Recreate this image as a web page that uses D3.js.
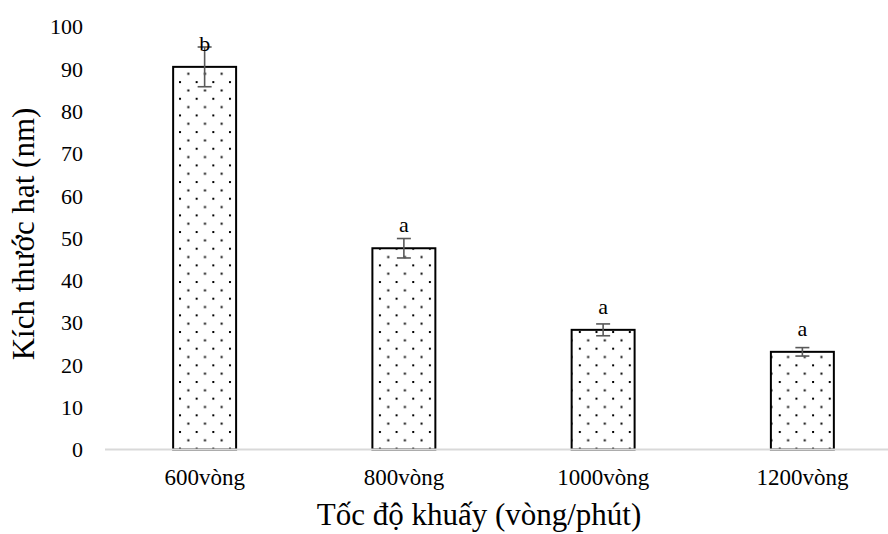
<!DOCTYPE html>
<html>
<head>
<meta charset="utf-8">
<script src="https://cdn.jsdelivr.net/npm/d3@7"></script>
<style>
  body { margin: 0; background: #ffffff; }
  svg text { font-family: "Liberation Serif", "Times New Roman", serif; fill: #000; }
</style>
</head>
<body>
<div class="chart"></div>
<script>
const categories = ['600vòng', '800vòng', '1000vòng', '1200vòng'];
const sizes = [90.5, 47.6, 28.3, 23.1];
const errors = [4.7, 2.3, 1.4, 1.0];
const letters = ['b', 'a', 'a', 'a'];
const yTicks = [0, 10, 20, 30, 40, 50, 60, 70, 80, 90, 100];

const w = 888;
const h = 534;

const data = categories.map((c, i) => ({ cat: c, value: sizes[i], err: errors[i], letter: letters[i] }));

const xScale = d3.scaleBand()
  .domain(categories)
  .range([105, 902])
  .paddingInner(0.684)
  .paddingOuter(0.342);

const yScale = d3.scaleLinear()
  .domain([0, 100])
  .range([449.5, 26.7]);

const svg = d3.select('.chart')
  .append('svg')
  .attr('width', w)
  .attr('height', h)
  .style('display', 'block');

// dotted fill like the excel pattern
const pat = svg.append('defs').append('pattern')
  .attr('id', 'dots')
  .attr('patternUnits', 'userSpaceOnUse')
  .attr('width', 16.66)
  .attr('height', 16.66)
  .attr('x', 179)
  .attr('y', 381);
pat.append('rect').attr('width', 16.66).attr('height', 16.66).attr('fill', '#fff');
pat.append('rect').attr('x', 0).attr('y', 0).attr('width', 2).attr('height', 2).attr('fill', '#000');
pat.append('rect').attr('x', 8.33).attr('y', 8.33).attr('width', 2).attr('height', 2).attr('fill', '#000');

// y tick labels (no axis line in the original)
svg.append('g')
  .selectAll('text')
  .data(yTicks)
  .join('text')
  .attr('x', 83)
  .attr('y', d => yScale(d))
  .attr('dy', '0.35em')
  .attr('text-anchor', 'end')
  .style('font-size', '22px')
  .text(d => d);

// bars
svg.append('g')
  .selectAll('rect')
  .data(data)
  .join('rect')
  .attr('x', d => xScale(d.cat))
  .attr('y', d => yScale(d.value))
  .attr('width', xScale.bandwidth())
  .attr('height', d => yScale(0) - yScale(d.value))
  .attr('fill', 'url(#dots)')
  .attr('stroke', '#000')
  .attr('stroke-width', 2);

// baseline
svg.append('line')
  .attr('x1', 105)
  .attr('x2', w)
  .attr('y1', yScale(0))
  .attr('y2', yScale(0))
  .attr('stroke', '#d9d9d9')
  .attr('stroke-width', 2);

// error bars
const eb = svg.append('g')
  .attr('stroke', '#595959')
  .attr('stroke-width', 1.6);

eb.selectAll('.stem')
  .data(data)
  .join('line')
  .attr('class', 'stem')
  .attr('x1', d => xScale(d.cat) + xScale.bandwidth() / 2)
  .attr('x2', d => xScale(d.cat) + xScale.bandwidth() / 2)
  .attr('y1', d => yScale(d.value + d.err))
  .attr('y2', d => yScale(d.value - d.err));

[1, -1].forEach(s => {
  eb.selectAll('.cap' + (s > 0 ? 'top' : 'bot'))
    .data(data)
    .join('line')
    .attr('class', 'cap' + (s > 0 ? 'top' : 'bot'))
    .attr('x1', d => xScale(d.cat) + xScale.bandwidth() / 2 - 7)
    .attr('x2', d => xScale(d.cat) + xScale.bandwidth() / 2 + 7)
    .attr('y1', d => yScale(d.value + s * d.err))
    .attr('y2', d => yScale(d.value + s * d.err));
});

// significance letters
svg.append('g')
  .selectAll('text')
  .data(data)
  .join('text')
  .attr('x', d => xScale(d.cat) + xScale.bandwidth() / 2)
  .attr('y', d => yScale(d.value) - 23.5)
  .attr('dy', '0.35em')
  .attr('text-anchor', 'middle')
  .style('font-size', '22px')
  .text(d => d.letter);

// x category labels
svg.append('g')
  .selectAll('text')
  .data(categories)
  .join('text')
  .attr('x', d => xScale(d) + xScale.bandwidth() / 2)
  .attr('y', 485)
  .attr('text-anchor', 'middle')
  .style('font-size', '23px')
  .text(d => d);

// axis titles
svg.append('text')
  .attr('x', 479)
  .attr('y', 525)
  .attr('text-anchor', 'middle')
  .style('font-size', '31px')
  .text('Tốc độ khuấy (vòng/phút)');

svg.append('text')
  .attr('transform', 'translate(34, 234) rotate(-90)')
  .attr('text-anchor', 'middle')
  .style('font-size', '31px')
  .text('Kích thước hạt (nm)');
</script>
</body>
</html>
